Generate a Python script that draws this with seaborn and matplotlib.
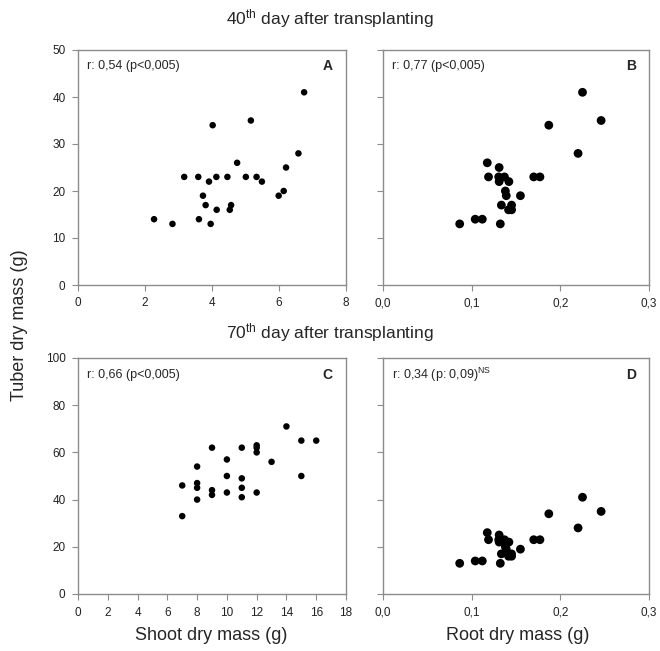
import numpy as np
import seaborn as sb
import pandas as pd
import matplotlib.pyplot as plt
from matplotlib.ticker import FuncFormatter

#data
#panel A: shoot dry mass vs tuber dry mass, 40th day
shoot_40 = [2.27, 2.82, 3.17, 3.59, 3.61, 3.73, 3.81, 3.91, 3.96, 4.02, 4.13, 4.14, 4.46,
            4.53, 4.57, 4.75, 5.01, 5.16, 5.33, 5.49, 5.99, 6.14, 6.21, 6.58, 6.75]
tuber_40a = [14, 13, 23, 23, 14, 19, 17, 22, 13, 34, 23, 16, 23,
             16, 17, 26, 23, 35, 23, 22, 19, 20, 25, 28, 41]
#panel B (and D): root dry mass vs tuber dry mass
root = [0.0865, 0.104, 0.112, 0.1176, 0.119, 0.131, 0.1305, 0.131, 0.1323, 0.1335, 0.137, 0.138,
        0.139, 0.142, 0.1416, 0.145, 0.145, 0.155, 0.170, 0.177, 0.187, 0.220, 0.225, 0.246]
tuber_b = [13, 14, 14, 26, 23, 25, 23, 22, 13, 17, 23, 20,
           19, 22, 16, 17, 16, 19, 23, 23, 34, 28, 41, 35]
#panel C: shoot dry mass vs tuber dry mass, 70th day
shoot_70 = [7, 7, 8, 8, 8, 8, 9, 9, 9, 10, 10, 10, 11, 11, 11, 11,
            12, 12, 12, 12, 13, 14, 15, 15, 16]
tuber_70 = [46, 33, 54, 47, 45, 40, 62, 44, 42, 57, 50, 43, 62, 49, 45, 41,
            63, 62, 60, 43, 56, 71, 65, 50, 65]

notes = ["r: 0,54 (p<0,005)", "r: 0,77 (p<0,005)", "r: 0,66 (p<0,005)",
         "r: 0,34 (p: 0,09)$^{\\mathrm{NS}}$"]
letters = ["A", "B", "C", "D"]

sb.set_style("ticks")
plt.rcParams['font.family'] = ['Liberation Sans', 'DejaVu Sans']
plt.rcParams['mathtext.fontset'] = 'custom'
plt.rcParams['mathtext.rm'] = 'Liberation Sans'
plt.rcParams['mathtext.it'] = 'Liberation Sans:italic'

W, H = 660, 651
fig = plt.figure(figsize=(W/100, H/100), dpi=100)

def box(l, t, r, b):
    return [l/W, 1-b/H, (r-l)/W, (b-t)/H]

axA = fig.add_axes(box(78, 50, 346, 285))
axB = fig.add_axes(box(383, 50, 649, 285))
axC = fig.add_axes(box(78, 358, 346, 594))
axD = fig.add_axes(box(383, 358, 649, 594))

sb.scatterplot(x=shoot_40, y=tuber_40a, ax=axA, color='black', s=22, edgecolor='none')
sb.scatterplot(x=root, y=tuber_b, ax=axB, color='black', s=40, edgecolor='none')
sb.scatterplot(x=shoot_70, y=tuber_70, ax=axC, color='black', s=22, edgecolor='none')
sb.scatterplot(x=root, y=tuber_b, ax=axD, color='black', s=40, edgecolor='none')

comma = FuncFormatter(lambda v, p: f"{v:.1f}".replace('.', ','))

axA.set_xlim(0, 8); axA.set_xticks([0, 2, 4, 6, 8])
axA.set_ylim(0, 50); axA.set_yticks(range(0, 51, 10))
axB.set_xlim(0, 0.3); axB.set_xticks([0, 0.1, 0.2, 0.3])
axB.set_ylim(0, 50); axB.set_yticks(range(0, 51, 10))
axB.xaxis.set_major_formatter(comma); axB.set_yticklabels([])
axC.set_xlim(0, 18); axC.set_xticks(range(0, 19, 2))
axC.set_ylim(0, 100); axC.set_yticks(range(0, 101, 20))
axD.set_xlim(0, 0.3); axD.set_xticks([0, 0.1, 0.2, 0.3])
axD.set_ylim(0, 100); axD.set_yticks(range(0, 101, 20))
axD.xaxis.set_major_formatter(comma); axD.set_yticklabels([])

for ax, n, l in zip([axA, axB, axC, axD], notes, letters):
    for sp in ax.spines.values():
        sp.set_color('#8c8c8c')
        sp.set_linewidth(1.0)
    ax.tick_params(direction='out', length=4, width=0.8, color='#8c8c8c',
                   labelsize=8.5, labelcolor='#222222', pad=5)
    ax.text(0.035, 0.93, n, transform=ax.transAxes, fontsize=9, va='center', ha='left')
    ax.text(0.95, 0.93, l, transform=ax.transAxes, fontsize=10, fontweight='bold',
            va='center', ha='right')

fig.text(330/W, 1-19/H, "40$^{\\mathrm{th}}$ day after transplanting", fontsize=12.5,
         ha='center', va='center')
fig.text(330/W, 1-333/H, "70$^{\\mathrm{th}}$ day after transplanting", fontsize=12.5,
         ha='center', va='center')
fig.text(20/W, 1-325/H, "Tuber dry mass (g)", fontsize=13, rotation=90,
         ha='center', va='center')
fig.text(211/W, 1-635/H, "Shoot dry mass (g)", fontsize=13, ha='center', va='center')
fig.text(518/W, 1-635/H, "Root dry mass (g)", fontsize=13, ha='center', va='center')

fig.savefig("out.png", dpi=100)
